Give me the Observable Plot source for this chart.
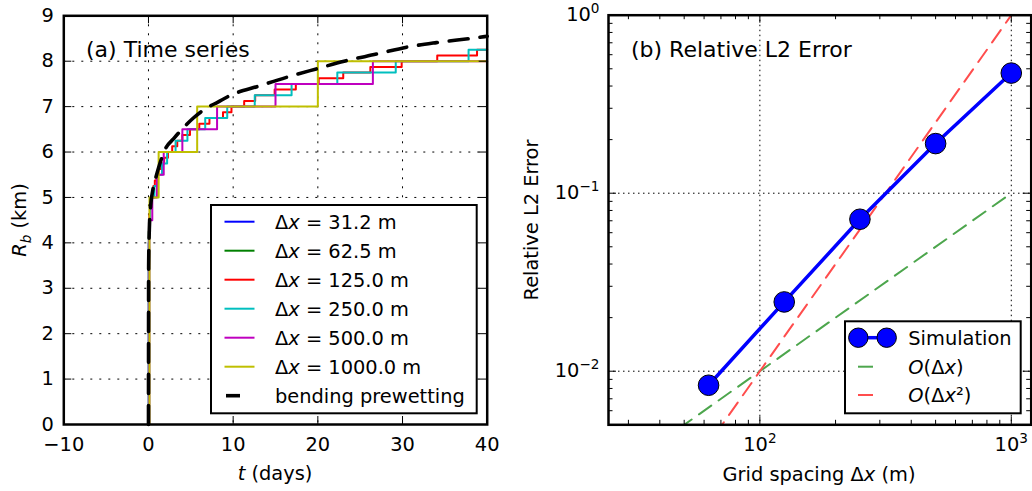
<!DOCTYPE html>
<html><head><meta charset="utf-8">
<script src="https://cdn.jsdelivr.net/npm/d3@7"></script>
<script src="https://cdn.jsdelivr.net/npm/@observablehq/plot@0.6"></script>
<style>
html,body{margin:0;padding:0;background:#fff;}
#wrap{display:flex;width:1032px;height:491px;overflow:hidden;}
</style></head><body><div id="wrap"></div>
<script>
// ---------- Panel (a) data ----------
const xTicksA = [-10, 0, 10, 20, 30, 40];
const yTicksA = [0, 1, 2, 3, 4, 5, 6, 7, 8, 9];
const seriesNames = ["31.2", "62.5", "125.0", "250.0", "500.0", "1000.0"];

const tBlue = [0, 0.03, 0.06];
const rBlue = [0, 4.0, 4.25];
const tGreen = [0, 0.04, 0.08];
const rGreen = [0, 4.25, 4.5];
const tRed = [0, 0.06, 0.11, 0.17, 0.24, 0.33, 0.44, 0.58, 0.75, 0.95, 1.2, 1.5, 1.85, 2.3, 2.8, 3.4, 4.0, 4.9, 6.0, 7.2, 8.8, 9.8, 11.3, 12.6, 14.9, 17.4, 20.1, 23.0, 26.2, 29.9, 34.1, 38.8, 40];
const rRed = [0, 4.5, 4.625, 4.75, 4.875, 5.0, 5.125, 5.25, 5.375, 5.5, 5.625, 5.75, 5.875, 6.0, 6.125, 6.25, 6.375, 6.5, 6.625, 6.75, 6.875, 7.0, 7.125, 7.25, 7.375, 7.5, 7.625, 7.75, 7.875, 8.0, 8.125, 8.25, 8.25];
const tCyan = [0, 0.08, 0.2, 0.4, 0.7, 1.1, 1.6, 2.2, 3.2, 4.6, 6.7, 9.3, 12.55, 16.9, 22.3, 29.2, 37.8, 40];
const rCyan = [0, 4.5, 4.75, 5.0, 5.25, 5.5, 5.75, 6.0, 6.25, 6.5, 6.75, 7.0, 7.25, 7.5, 7.75, 8.0, 8.25, 8.25];
const tMagenta = [0, 0.1, 0.45, 1.0, 1.8, 4.0, 8.1, 15.0, 26.5, 40];
const rMagenta = [0, 4.5, 5.0, 5.5, 6.0, 6.5, 7.0, 7.5, 8.0, 8.0];
const tYellow = [0, 0.12, 1.2, 5.75, 20.0, 40];
const rYellow = [0, 5.0, 6.0, 7.0, 8.0, 8.0];
const tBend = [0, 0.02, 0.1, 0.26, 0.5, 0.83, 1.3, 2.0, 3.0, 4.0, 5.3, 6.7, 8.2, 9.7, 13, 16.4, 20, 23.1, 27, 30.5, 34, 38, 40];
const rBend = [0, 3.5, 4.3, 4.82, 5.15, 5.41, 5.72, 6.07, 6.3, 6.51, 6.75, 6.95, 7.1, 7.25, 7.45, 7.65, 7.84, 8.0, 8.16, 8.31, 8.41, 8.5, 8.55];

// ---------- Panel (b) data ----------
const gridDx = [62.5, 125, 250, 500, 1000];
const l2Error = [0.00834, 0.0245, 0.0714, 0.19, 0.473];
const refDx = [40, 1000];
const refFirst = [0.004, 0.1];
const refSecond = [0.0016, 1.0];
const xMajorB = [100, 1000];
const xMinorB = [30, 40, 50, 60, 70, 80, 90, 200, 300, 400, 500, 600, 700, 800, 900];
const yMajorB = [0.01, 0.1, 1];
const yMinorB = [0.006, 0.007, 0.008, 0.009, 0.02, 0.03, 0.04, 0.05, 0.06, 0.07, 0.08, 0.09, 0.2, 0.3, 0.4, 0.5, 0.6, 0.7, 0.8, 0.9];

// ---------- styles ----------
const FONT = "DejaVu Sans";
const FS = 19.4;
const seriesColors = ["#0000ff", "#008000", "#ff0000", "#00bfbf", "#bf00bf", "#bfbf00"];
const zip = (a, b) => a.map((v, i) => ({x: v, y: b[i]}));

const seriesData = [
  zip(tBlue, rBlue), zip(tGreen, rGreen), zip(tRed, rRed),
  zip(tCyan, rCyan), zip(tMagenta, rMagenta), zip(tYellow, rYellow)
];
const bendData = zip(tBend, rBend);

function frameTicks(xs, ys, len, plotW, plotH) {
  return [
    Plot.tickX(xs, {x: d => d, insetTop: plotH - len, stroke: "black", strokeWidth: 1}),
    Plot.tickX(xs, {x: d => d, insetBottom: plotH - len, stroke: "black", strokeWidth: 1}),
    Plot.tickY(ys, {y: d => d, insetRight: plotW - len, stroke: "black", strokeWidth: 1}),
    Plot.tickY(ys, {y: d => d, insetLeft: plotW - len, stroke: "black", strokeWidth: 1})
  ];
}

// ---------- Left panel ----------
const WA = 516, HA = 491;
const mA = {left: 63.3, right: 29.3, top: 15.3, bottom: 67};
const pwA = WA - mA.left - mA.right, phA = HA - mA.top - mA.bottom;
const fmtA = d => d < 0 ? "\u2212" + Math.abs(d) : String(d);

const left = Plot.plot({
  width: WA, height: HA,
  marginLeft: mA.left, marginRight: mA.right, marginTop: mA.top, marginBottom: mA.bottom,
  style: {fontFamily: FONT, fontSize: FS + "px", background: "white", color: "black", overflow: "visible"},
  x: {domain: [-10, 40], label: null},
  y: {domain: [0, 9], label: null},
  marks: [
    Plot.ruleX(xTicksA, {x: d => d, stroke: "black", strokeWidth: 1, strokeDasharray: "2,7"}),
    Plot.ruleY(yTicksA, {y: d => d, stroke: "black", strokeWidth: 1, strokeDasharray: "2,7"}),
    ...seriesData.map((s, i) => Plot.line(s, {x: "x", y: "y", stroke: seriesColors[i], strokeWidth: 2, curve: "step-after"})),
    Plot.line(bendData, {x: "x", y: "y", stroke: "black", strokeWidth: 3.6, strokeDasharray: "19,12", curve: "monotone-x"}),
    ...frameTicks(xTicksA, yTicksA, 8, pwA, phA),
    Plot.axisX({ticks: xTicksA, tickSize: 0, tickPadding: 12.5, tickFormat: fmtA, fontSize: FS}),
    Plot.axisY({ticks: yTicksA, tickSize: 0, tickPadding: 10, tickFormat: fmtA, fontSize: FS}),
    Plot.frame({stroke: "black", strokeWidth: 2.5})
  ]
});

// ---------- Right panel ----------
const WB = 516, HB = 491;
const mB = {left: 92, right: 1.3, top: 14.7, bottom: 66.7};
const pwB = WB - mB.left - mB.right, phB = HB - mB.top - mB.bottom;
const sup = {"0": "\u2070", "1": "\u00b9", "2": "\u00b2", "3": "\u00b3", "-": "\u207b"};
const unsup = {"\u2070": "0", "\u00b9": "1", "\u00b2": "2", "\u00b3": "3", "\u207b": "\u2212"};
const fmtLog = d => "10" + String(Math.round(Math.log10(d))).split("").map(c => sup[c]).join("");

const simData = zip(gridDx, l2Error);
const firstData = zip(refDx, refFirst);
const secondData = zip(refDx, refSecond);

const right = Plot.plot({
  width: WB, height: HB,
  marginLeft: mB.left, marginRight: mB.right, marginTop: mB.top, marginBottom: mB.bottom,
  style: {fontFamily: FONT, fontSize: FS + "px", background: "white", color: "black", overflow: "visible"},
  x: {type: "log", domain: [25, 1200], label: null},
  y: {type: "log", domain: [0.005, 1], label: null},
  marks: [
    Plot.ruleX(xMajorB, {x: d => d, stroke: "black", strokeWidth: 1, strokeDasharray: "1.5,3.5"}),
    Plot.ruleY(yMajorB, {y: d => d, stroke: "black", strokeWidth: 1, strokeDasharray: "1.5,3.5"}),
    Plot.line(firstData, {x: "x", y: "y", stroke: "#4da64d", strokeWidth: 2, strokeDasharray: "15,9", clip: true}),
    Plot.line(secondData, {x: "x", y: "y", stroke: "#ff4d4d", strokeWidth: 2, strokeDasharray: "15,9", clip: true}),
    Plot.line(simData, {x: "x", y: "y", stroke: "#0000ff", strokeWidth: 3.5}),
    Plot.dot(simData, {x: "x", y: "y", r: 10.3, fill: "#0000ff", stroke: "black", strokeWidth: 1}),
    ...frameTicks(xMajorB, yMajorB, 8, pwB, phB),
    ...frameTicks(xMinorB, yMinorB, 4.5, pwB, phB),
    Plot.axisX({ticks: xMajorB, tickSize: 0, tickPadding: 12.5, tickFormat: fmtLog, fontSize: FS}),
    Plot.axisY({ticks: yMajorB, tickSize: 0, tickPadding: 9, tickFormat: fmtLog, fontSize: FS}),
    Plot.frame({stroke: "black", strokeWidth: 2.5})
  ]
});

const wrap = document.getElementById("wrap");
wrap.appendChild(left);
wrap.appendChild(right);

// turn unicode-superscript tick labels into "10" + raised smaller exponent
d3.select(right).selectAll("text").each(function () {
  const s = this.textContent;
  const m = /^10([\u2070\u00b9\u00b2\u00b3\u207b]+)$/.exec(s);
  if (!m) return;
  const exp = m[1].split("").map(c => unsup[c]).join("");
  const t = d3.select(this);
  t.text("");
  t.append("tspan").text("10");
  t.append("tspan").attr("font-size", 13.6).attr("dy", -8).text(exp);
});

// ---------- rich text helpers ----------
function rich(svg, x, y, parts, o = {}) {
  const t = d3.select(svg).append("text")
    .attr("x", x).attr("y", y)
    .attr("font-family", FONT)
    .attr("font-size", o.size || FS)
    .attr("text-anchor", o.anchor || "start")
    .attr("fill", "black");
  if (o.baseline) t.attr("dominant-baseline", o.baseline);
  if (o.rotate) t.attr("transform", `rotate(${o.rotate},${x},${y})`);
  for (const p of parts) {
    const s = t.append("tspan").text(p.t);
    if (p.i) s.attr("font-style", "italic");
    if (p.fs) s.attr("font-size", p.fs);
    if (p.dy) s.attr("dy", p.dy);
  }
  return t;
}
function box(svg, x, y, w, h) {
  d3.select(svg).append("rect").attr("x", x).attr("y", y).attr("width", w).attr("height", h)
    .attr("fill", "white").attr("stroke", "black").attr("stroke-width", 2);
}
function seg(svg, x1, x2, y, color, sw, dash) {
  const l = d3.select(svg).append("line").attr("x1", x1).attr("x2", x2).attr("y1", y).attr("y2", y)
    .attr("stroke", color).attr("stroke-width", sw);
  if (dash) l.attr("stroke-dasharray", dash);
}

// Left panel texts
rich(left, 86, 57, [{t: "(a) Time series"}], {size: 22});
rich(left, 275, 480, [{t: "t", i: true}, {t: " (days)"}], {anchor: "middle"});
rich(left, 26, 220, [{t: "R", i: true}, {t: "b", i: true, fs: 13.5, dy: 5}, {t: " (km)", dy: -5}], {anchor: "middle", rotate: -90});

// Left legend
box(left, 211, 205, 265.7, 208.3);
seriesNames.forEach((n, i) => {
  const y = 221.7 + i * 29;
  seg(left, 224.5, 254.5, y, seriesColors[i], 2);
  rich(left, 275, y, [{t: "\u0394"}, {t: "x", i: true}, {t: " = " + n + " m"}], {baseline: "central"});
});
{
  const y = 221.7 + 6 * 29;
  seg(left, 226, 240, y, "black", 3.6);
  rich(left, 275, y, [{t: "bending prewetting"}], {baseline: "central"});
}

// Right panel texts
const ox = 516;
rich(right, 631 - ox, 57, [{t: "(b) Relative L2 Error"}], {size: 22});
rich(right, 819 - ox, 481, [{t: "Grid spacing \u0394"}, {t: "x", i: true}, {t: " (m)"}], {anchor: "middle"});
rich(right, 538 - ox, 220, [{t: "Relative L2 Error"}], {anchor: "middle", rotate: -90});

// Right legend
box(right, 845 - ox, 321.3, 175.7, 92);
{
  const y1 = 337.7;
  seg(right, 858.3 - ox, 886.7 - ox, y1, "#0000ff", 3.5);
  [858.3, 886.7].forEach(cx => d3.select(right).append("circle").attr("cx", cx - ox).attr("cy", y1).attr("r", 9.7)
    .attr("fill", "#0000ff").attr("stroke", "black").attr("stroke-width", 1));
  rich(right, 908.3 - ox, y1, [{t: "Simulation"}], {baseline: "central"});
  const y2 = 366.7;
  seg(right, 858 - ox, 873 - ox, y2, "#4da64d", 2);
  rich(right, 908.3 - ox, y2, [{t: "O", i: true}, {t: "(\u0394"}, {t: "x", i: true}, {t: ")"}], {baseline: "central"});
  const y3 = 395;
  seg(right, 858 - ox, 873 - ox, y3, "#ff4d4d", 2);
  rich(right, 908.3 - ox, y3, [{t: "O", i: true}, {t: "(\u0394"}, {t: "x", i: true}, {t: "\u00b2)"}], {baseline: "central"});
}
</script>
</body></html>
